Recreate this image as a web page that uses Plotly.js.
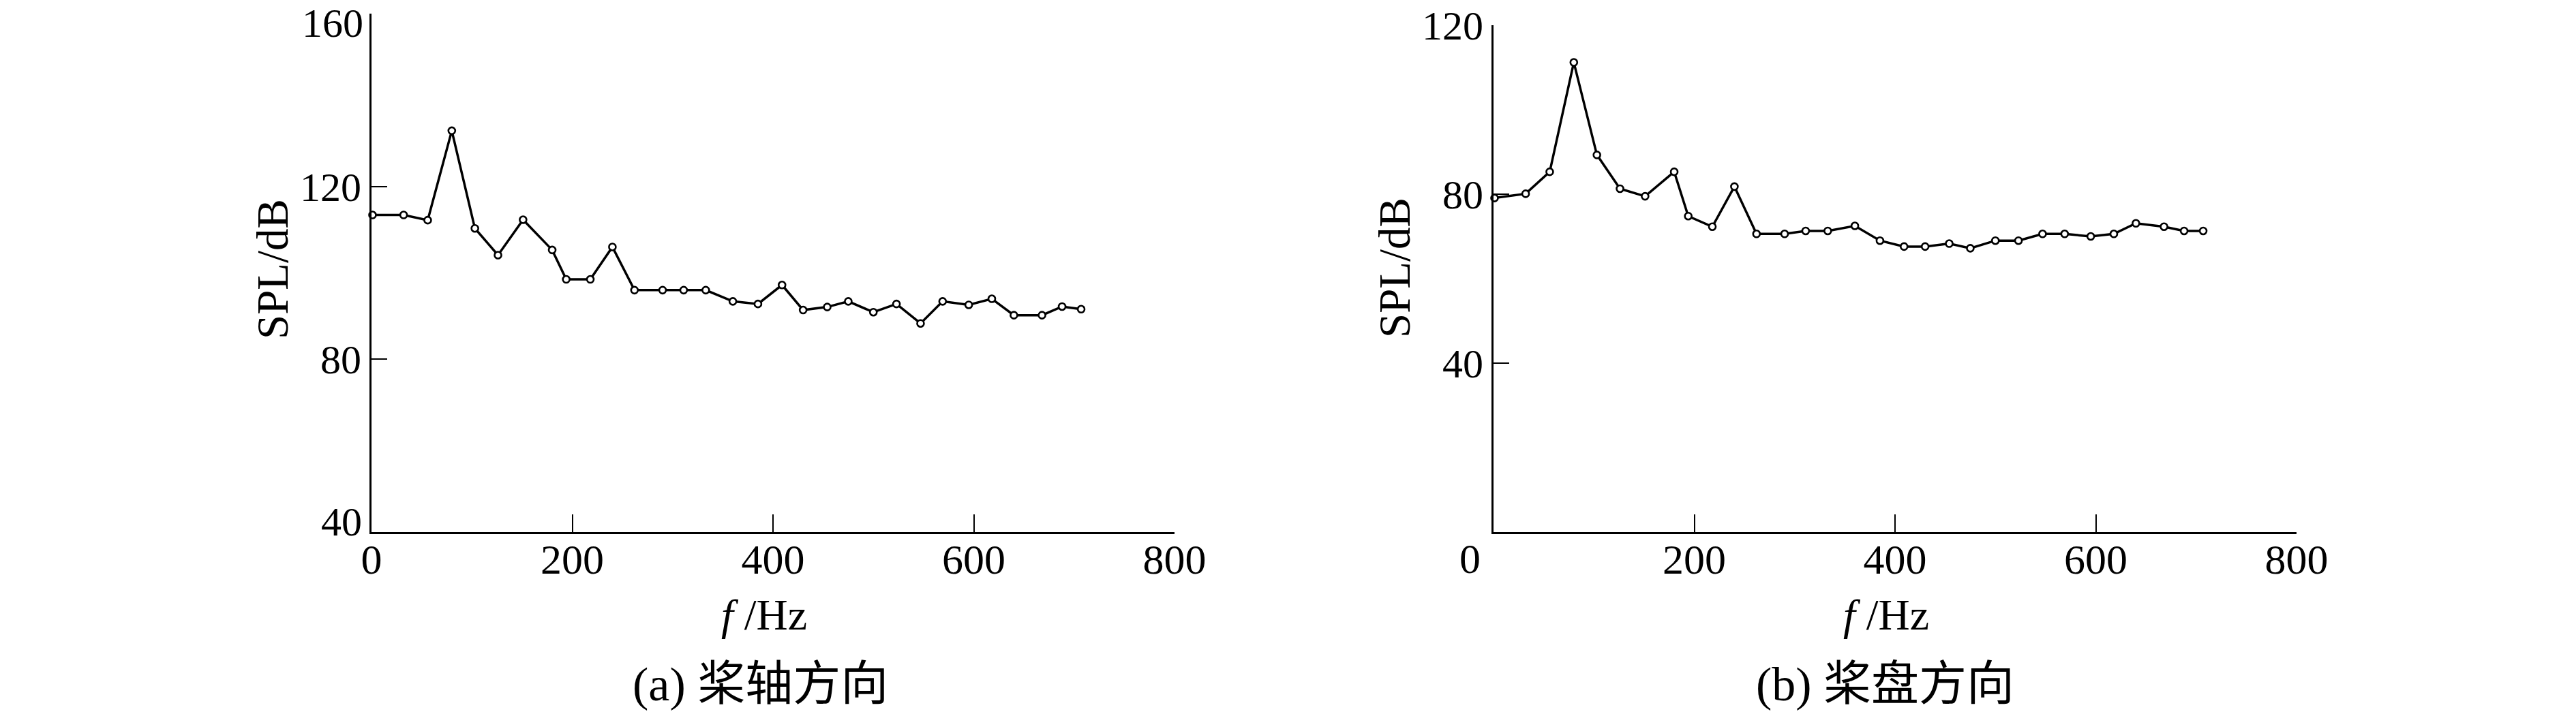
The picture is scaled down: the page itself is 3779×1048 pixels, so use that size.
<!DOCTYPE html>
<html>
<head>
<meta charset="utf-8">
<script src="https://cdn.plot.ly/plotly-3.0.1.min.js"></script>
<style>html,body{margin:0;padding:0;background:#fff;}#chart{width:3779px;height:1048px;}</style>
</head>
<body>
<div id="chart"></div>
<script>
// Frequency (Hz), shared by both panels
const freq = [1, 32, 56, 80, 103, 126, 151, 180, 194, 218, 240, 262, 290, 311, 333, 360, 385, 409, 430, 454, 475, 500, 523, 547, 569, 595, 618, 640, 668, 688, 707];
// (a) 桨轴方向 SPL (dB)
const splShaft = [113.4, 113.4, 112.2, 132.9, 110.3, 104.1, 112.3, 105.3, 98.5, 98.5, 106, 96, 96, 96, 96, 93.4, 92.8, 97.2, 91.4, 92.1, 93.4, 90.9, 92.8, 88.3, 93.4, 92.6, 94, 90.2, 90.2, 92.2, 91.6];
// (b) 桨盘方向 SPL (dB)
const splDisk = [79.1, 80.1, 85.3, 111.2, 89.3, 81.3, 79.5, 85.3, 74.8, 72.3, 81.8, 70.6, 70.6, 71.3, 71.3, 72.5, 69, 67.6, 67.6, 68.3, 67.2, 69, 69, 70.6, 70.6, 70, 70.6, 73.1, 72.3, 71.3, 71.3];
const xTicks = [0, 200, 400, 600, 800];
const yTicksA = [40, 80, 120, 160];
const yTicksB = [0, 40, 80, 120];
const captions = ['(a) 桨轴方向', '(b) 桨盘方向'];
const yTitle = 'SPL/dB';
const xTitle = '<i>f</i> /Hz';

const W = 3779, H = 1048;
const px = v => v / W;
const py = v => (H - v) / H;
const serif = 'Liberation Serif, Times New Roman, serif';
const cjk = 'Liberation Serif, Noto Sans CJK SC, serif';

function trace(y, xa, ya) {
  return {
    x: freq, y: y, xaxis: xa, yaxis: ya, type: 'scatter', mode: 'lines+markers',
    line: {color: '#000', width: 3.5},
    marker: {symbol: 'circle', size: 10, color: '#fff', line: {color: '#000', width: 2.6}},
    cliponaxis: false, showlegend: false, hoverinfo: 'skip'
  };
}

function xax(domain, anchor, hideZero) {
  return {
    domain: domain, anchor: anchor, range: [0, 800],
    tickvals: xTicks, ticktext: xTicks.map(v => (hideZero && v === 0) ? '' : String(v)),
    ticks: 'inside', ticklen: 26, tickwidth: 2, tickcolor: '#000', ticklabelstandoff: -16,
    showline: true, linewidth: 3, linecolor: '#000', showgrid: false, zeroline: false,
    tickfont: {family: serif, size: 62, color: '#000'}, fixedrange: true
  };
}
function yax(domain, anchor, range, vals, hidden) {
  return {
    domain: domain, anchor: anchor, range: range,
    tickvals: vals, ticktext: vals.map(v => hidden.includes(v) ? '' : String(v)),
    ticks: 'inside', ticklen: 23, tickwidth: 2, tickcolor: '#000',
    showline: true, linewidth: 3, linecolor: '#000', showgrid: false, zeroline: false,
    tickfont: {family: serif, size: 60, color: '#000'}, fixedrange: true
  };
}

const ann = [];
function txt(text, x, y, size, family, angle, yanchor) {
  ann.push({text: text, x: x, y: y, xref: 'paper', yref: 'paper', xanchor: 'center', yanchor: yanchor || 'middle',
    showarrow: false, textangle: angle || 0, borderpad: 0, font: {family: family, size: size, color: '#000'}});
}
// axis titles
txt(yTitle, px(400), py(395), 65, serif, -90);
txt(yTitle, px(2046), py(393), 65, serif, -90);
txt(xTitle, px(1121), py(902), 64, serif);
txt(xTitle, px(2767), py(902), 64, serif);
// captions
txt(captions[0], px(1115), py(1004), 70, cjk);
txt(captions[1], px(2765), py(1004), 70, cjk);
// offset tick labels
txt(String(yTicksA[0]), px(501), py(766), 60, serif);
txt(String(yTicksA[3]), px(488), 1, 60, serif, 0, 'top');
txt(String(xTicks[0]), px(2156), py(820), 62, serif);

const layout = {
  width: W, height: H, margin: {l: 0, r: 0, t: 0, b: 0},
  paper_bgcolor: '#fff', plot_bgcolor: '#fff', showlegend: false,
  xaxis: xax([px(545), px(1723)], 'y', false),
  yaxis: yax([py(781), py(20)], 'x', [40, 160], yTicksA, [40, 160]),
  xaxis2: xax([px(2191), px(3369)], 'y2', true),
  yaxis2: yax([py(781), py(37)], 'x2', [0, 120], yTicksB, [0]),
  annotations: ann
};

Plotly.newPlot('chart', [trace(splShaft, 'x', 'y'), trace(splDisk, 'x2', 'y2')], layout, {staticPlot: true});
</script>
</body>
</html>
